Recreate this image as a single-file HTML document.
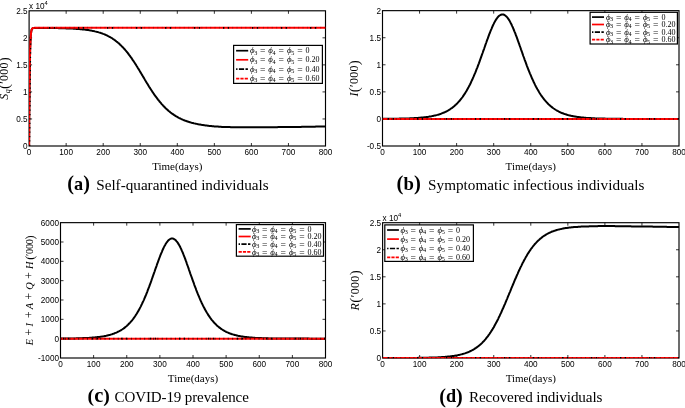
<!DOCTYPE html>
<html lang="en"><head><meta charset="utf-8"><title>Figure</title><style>
html,body{margin:0;padding:0;background:#fff}
body{width:685px;height:408px;overflow:hidden}
svg{display:block}
.tk{font-family:"Liberation Sans",sans-serif;font-size:8.2px;fill:#000}
.xl{font-family:"Liberation Serif",serif;font-size:11px;fill:#000}
.yl{font-family:"Liberation Serif",serif;fill:#000}
.lg{font-family:"Liberation Serif",serif;font-size:8px;fill:#000}
.eq{fill:#222;font-size:9.6px}
.ph{font-size:8.8px}
.ph{font-style:italic}
.sb{font-size:6.2px}
.cb{font-family:"Liberation Serif",serif;font-weight:bold;font-size:19.5px;fill:#000}
.pr{font-size:21.5px}
.cp{font-family:"Liberation Serif",serif;font-size:15.2px;fill:#000}
.cp2{font-family:"Liberation Serif",serif;font-size:15px;fill:#000}
</style></head><body>
<svg width="685" height="408" viewBox="0 0 685 408">
<rect width="685" height="408" fill="#fff"/>
<rect x="29.10" y="10.80" width="296.40" height="135.20" fill="none" stroke="#000" stroke-width="1.15"/>
<text x="29.10" y="155.00" text-anchor="middle" class="tk">0</text>
<path d="M66.15 146.00v-3.0M66.15 10.80v3.0" stroke="#000" stroke-width="0.8"/>
<text x="66.15" y="155.00" text-anchor="middle" class="tk">100</text>
<path d="M103.20 146.00v-3.0M103.20 10.80v3.0" stroke="#000" stroke-width="0.8"/>
<text x="103.20" y="155.00" text-anchor="middle" class="tk">200</text>
<path d="M140.25 146.00v-3.0M140.25 10.80v3.0" stroke="#000" stroke-width="0.8"/>
<text x="140.25" y="155.00" text-anchor="middle" class="tk">300</text>
<path d="M177.30 146.00v-3.0M177.30 10.80v3.0" stroke="#000" stroke-width="0.8"/>
<text x="177.30" y="155.00" text-anchor="middle" class="tk">400</text>
<path d="M214.35 146.00v-3.0M214.35 10.80v3.0" stroke="#000" stroke-width="0.8"/>
<text x="214.35" y="155.00" text-anchor="middle" class="tk">500</text>
<path d="M251.40 146.00v-3.0M251.40 10.80v3.0" stroke="#000" stroke-width="0.8"/>
<text x="251.40" y="155.00" text-anchor="middle" class="tk">600</text>
<path d="M288.45 146.00v-3.0M288.45 10.80v3.0" stroke="#000" stroke-width="0.8"/>
<text x="288.45" y="155.00" text-anchor="middle" class="tk">700</text>
<text x="325.50" y="155.00" text-anchor="middle" class="tk">800</text>
<text x="27.60" y="149.00" text-anchor="end" class="tk">0</text>
<path d="M29.10 118.96h3.0M325.50 118.96h-3.0" stroke="#000" stroke-width="0.8"/>
<text x="27.60" y="121.96" text-anchor="end" class="tk">0.5</text>
<path d="M29.10 91.92h3.0M325.50 91.92h-3.0" stroke="#000" stroke-width="0.8"/>
<text x="27.60" y="94.92" text-anchor="end" class="tk">1</text>
<path d="M29.10 64.88h3.0M325.50 64.88h-3.0" stroke="#000" stroke-width="0.8"/>
<text x="27.60" y="67.88" text-anchor="end" class="tk">1.5</text>
<path d="M29.10 37.84h3.0M325.50 37.84h-3.0" stroke="#000" stroke-width="0.8"/>
<text x="27.60" y="40.84" text-anchor="end" class="tk">2</text>
<text x="27.60" y="13.80" text-anchor="end" class="tk">2.5</text>
<clipPath id="c39"><rect x="28.95" y="10.80" width="296.90" height="135.50"/></clipPath>
<g clip-path="url(#c39)">
<polyline points="29.1,146.0 29.2,132.9 29.2,121.2 29.3,110.9 29.4,101.6 29.5,93.5 29.5,86.2 29.6,79.7 29.7,73.9 29.8,68.8 29.8,64.3 29.9,60.2 30.0,56.6 30.1,53.4 30.1,50.6 30.2,48.1 30.3,45.8 30.4,43.8 30.4,42.1 30.5,40.5 30.6,39.1 30.7,37.8 30.7,36.7 30.8,35.7 30.9,34.9 31.0,34.1 31.0,33.4 31.1,32.8 31.2,32.2 31.2,31.7 31.3,31.3 31.4,30.9 31.5,30.6 31.5,30.3 31.6,30.0 31.7,29.8 31.8,29.5 31.8,29.4 31.9,29.2 32.0,29.0 32.1,28.9 32.1,28.8 32.2,28.7 32.3,28.6 32.4,28.5 32.4,28.4 32.5,28.4 32.6,28.3 32.7,28.3 32.7,28.2 32.8,28.2 32.9,28.1 33.0,28.1 33.0,28.1 33.1,28.0 33.2,28.0 33.2,28.0 33.3,28.0 33.4,28.0 33.5,27.9 33.5,27.9 33.6,27.9 33.7,27.9 33.8,27.9 33.8,27.9 33.9,27.9 34.0,27.9 34.1,27.9 34.1,27.9 34.2,27.9 34.3,27.9 34.4,27.9 34.4,27.9 34.5,27.9 34.6,27.9 34.7,27.9 34.7,27.9 34.8,27.9 34.9,27.9 35.0,27.9 35.0,27.9 35.1,27.9 35.2,27.9 35.3,27.9 35.3,27.9 35.4,27.9 35.5,27.9 35.5,27.9 35.6,27.9 35.7,27.9 35.8,27.9 35.8,27.9 35.9,27.9 36.0,27.9 36.1,27.9 36.1,27.9 36.2,27.9 36.3,27.9 36.4,27.9 36.4,27.9 36.5,27.9 37.3,27.9 38.0,27.9 38.7,27.9 39.5,27.9 40.2,27.9 41.0,27.9 41.7,27.9 42.4,27.9 43.2,27.9 43.9,28.0 44.7,28.0 45.4,28.0 46.1,28.0 46.9,28.0 47.6,28.0 48.4,28.0 49.1,28.0 49.8,28.0 50.6,28.0 51.3,28.0 52.1,28.0 52.8,28.0 53.6,28.1 54.3,28.1 55.0,28.1 55.8,28.1 56.5,28.1 57.3,28.1 58.0,28.1 58.7,28.2 59.5,28.2 60.2,28.2 61.0,28.2 61.7,28.2 62.4,28.2 63.2,28.3 63.9,28.3 64.7,28.3 65.4,28.3 66.2,28.4 66.9,28.4 67.6,28.4 68.4,28.4 69.1,28.5 69.9,28.5 70.6,28.5 71.3,28.6 72.1,28.6 72.8,28.6 73.6,28.7 74.3,28.7 75.0,28.8 75.8,28.8 76.5,28.9 77.3,28.9 78.0,29.0 78.7,29.0 79.5,29.1 80.2,29.2 81.0,29.2 81.7,29.3 82.5,29.4 83.2,29.5 83.9,29.5 84.7,29.6 85.4,29.7 86.2,29.8 86.9,29.9 87.6,30.0 88.4,30.1 89.1,30.2 89.9,30.4 90.6,30.5 91.3,30.6 92.1,30.8 92.8,30.9 93.6,31.1 94.3,31.2 95.0,31.4 95.8,31.6 96.5,31.8 97.3,31.9 98.0,32.1 98.8,32.4 99.5,32.6 100.2,32.8 101.0,33.1 101.7,33.3 102.5,33.6 103.2,33.9 103.9,34.1 104.7,34.4 105.4,34.8 106.2,35.1 106.9,35.4 107.6,35.8 108.4,36.2 109.1,36.6 109.9,37.0 110.6,37.4 111.4,37.8 112.1,38.3 112.8,38.8 113.6,39.3 114.3,39.8 115.1,40.3 115.8,40.9 116.5,41.5 117.3,42.1 118.0,42.7 118.8,43.3 119.5,44.0 120.2,44.7 121.0,45.4 121.7,46.2 122.5,46.9 123.2,47.7 123.9,48.5 124.7,49.3 125.4,50.2 126.2,51.1 126.9,52.0 127.7,52.9 128.4,53.9 129.1,54.9 129.9,55.9 130.6,56.9 131.4,57.9 132.1,59.0 132.8,60.1 133.6,61.2 134.3,62.3 135.1,63.5 135.8,64.6 136.5,65.8 137.3,67.0 138.0,68.2 138.8,69.4 139.5,70.6 140.2,71.9 141.0,73.1 141.7,74.4 142.5,75.6 143.2,76.9 144.0,78.1 144.7,79.4 145.4,80.6 146.2,81.9 146.9,83.1 147.7,84.3 148.4,85.5 149.1,86.7 149.9,87.9 150.6,89.0 151.4,90.2 152.1,91.3 152.8,92.4 153.6,93.5 154.3,94.6 155.1,95.6 155.8,96.7 156.6,97.7 157.3,98.6 158.0,99.6 158.8,100.5 159.5,101.5 160.3,102.4 161.0,103.2 161.7,104.1 162.5,104.9 163.2,105.7 164.0,106.5 164.7,107.2 165.4,108.0 166.2,108.7 166.9,109.4 167.7,110.0 168.4,110.7 169.1,111.3 169.9,111.9 170.6,112.5 171.4,113.1 172.1,113.6 172.9,114.1 173.6,114.6 174.3,115.1 175.1,115.6 175.8,116.1 176.6,116.5 177.3,116.9 178.0,117.4 178.8,117.8 179.5,118.1 180.3,118.5 181.0,118.9 181.7,119.2 182.5,119.5 183.2,119.9 184.0,120.2 184.7,120.5 185.5,120.7 186.2,121.0 186.9,121.3 187.7,121.5 188.4,121.8 189.2,122.0 189.9,122.2 190.6,122.4 191.4,122.7 192.1,122.9 192.9,123.0 193.6,123.2 194.3,123.4 195.1,123.6 195.8,123.7 196.6,123.9 197.3,124.1 198.0,124.2 198.8,124.4 199.5,124.5 200.3,124.6 201.0,124.7 201.8,124.9 202.5,125.0 203.2,125.1 204.0,125.2 204.7,125.3 205.5,125.4 206.2,125.5 206.9,125.6 207.7,125.7 208.4,125.8 209.2,125.9 209.9,125.9 210.6,126.0 211.4,126.1 212.1,126.2 212.9,126.2 213.6,126.3 214.3,126.4 215.1,126.4 215.8,126.5 216.6,126.5 217.3,126.6 218.1,126.6 218.8,126.7 219.5,126.7 220.3,126.8 221.0,126.8 221.8,126.9 222.5,126.9 223.2,126.9 224.0,127.0 224.7,127.0 225.5,127.0 226.2,127.0 226.9,127.1 227.7,127.1 228.4,127.1 229.2,127.1 229.9,127.1 230.7,127.2 231.4,127.2 232.1,127.2 232.9,127.2 233.6,127.2 234.4,127.2 235.1,127.2 235.8,127.3 236.6,127.3 237.3,127.3 238.1,127.3 238.8,127.3 239.5,127.3 240.3,127.3 241.0,127.3 241.8,127.3 242.5,127.3 243.2,127.3 244.0,127.3 244.7,127.3 245.5,127.3 246.2,127.3 247.0,127.3 247.7,127.3 248.4,127.3 249.2,127.3 249.9,127.3 250.7,127.3 251.4,127.3 252.1,127.3 252.9,127.3 253.6,127.3 254.4,127.3 255.1,127.3 255.8,127.3 256.6,127.3 257.3,127.3 258.1,127.3 258.8,127.3 259.6,127.3 260.3,127.3 261.0,127.3 261.8,127.3 262.5,127.3 263.3,127.3 264.0,127.3 264.7,127.3 265.5,127.3 266.2,127.3 267.0,127.3 267.7,127.2 268.4,127.2 269.2,127.2 269.9,127.2 270.7,127.2 271.4,127.2 272.1,127.2 272.9,127.2 273.6,127.2 274.4,127.2 275.1,127.2 275.9,127.2 276.6,127.2 277.3,127.2 278.1,127.1 278.8,127.1 279.6,127.1 280.3,127.1 281.0,127.1 281.8,127.1 282.5,127.1 283.3,127.1 284.0,127.1 284.7,127.1 285.5,127.1 286.2,127.1 287.0,127.0 287.7,127.0 288.5,127.0 289.2,127.0 289.9,127.0 290.7,127.0 291.4,127.0 292.2,127.0 292.9,127.0 293.6,127.0 294.4,126.9 295.1,126.9 295.9,126.9 296.6,126.9 297.3,126.9 298.1,126.9 298.8,126.9 299.6,126.9 300.3,126.9 301.0,126.9 301.8,126.8 302.5,126.8 303.3,126.8 304.0,126.8 304.8,126.8 305.5,126.8 306.2,126.8 307.0,126.8 307.7,126.8 308.5,126.8 309.2,126.7 309.9,126.7 310.7,126.7 311.4,126.7 312.2,126.7 312.9,126.7 313.6,126.7 314.4,126.7 315.1,126.7 315.9,126.6 316.6,126.6 317.3,126.6 318.1,126.6 318.8,126.6 319.6,126.6 320.3,126.6 321.1,126.6 321.8,126.6 322.5,126.5 323.3,126.5 324.0,126.5 324.8,126.5 325.5,126.5" fill="none" stroke="#000" stroke-width="2" stroke-linejoin="round"/>
<polyline points="29.1,146.0 29.2,132.9 29.2,121.2 29.3,110.9 29.4,101.6 29.5,93.5 29.5,86.2 29.6,79.7 29.7,73.9 29.8,68.8 29.8,64.3 29.9,60.2 30.0,56.6 30.1,53.4 30.1,50.6 30.2,48.1 30.3,45.8 30.4,43.8 30.4,42.1 30.5,40.5 30.6,39.1 30.7,37.8 30.7,36.7 30.8,35.7 30.9,34.9 31.0,34.1 31.0,33.4 31.1,32.8 31.2,32.2 31.2,31.7 31.3,31.3 31.4,30.9 31.5,30.6 31.5,30.3 31.6,30.0 31.7,29.8 31.8,29.5 31.8,29.4 31.9,29.2 32.0,29.0 32.1,28.9 32.1,28.8 32.2,28.7 32.3,28.6 32.4,28.5 32.4,28.4 32.5,28.4 32.6,28.3 32.7,28.3 32.7,28.2 32.8,28.2 32.9,28.1 33.0,28.1 33.0,28.1 33.1,28.0 33.2,28.0 33.2,28.0 33.3,28.0 33.4,28.0 33.5,27.9 33.5,27.9 33.6,27.9 33.7,27.9 33.8,27.9 33.8,27.9 33.9,27.9 34.0,27.9 34.1,27.9 34.1,27.9 34.2,27.9 34.3,27.9 34.4,27.9 34.4,27.9 34.5,27.9 34.6,27.9 34.7,27.9 34.7,27.9 34.8,27.8 34.9,27.8 35.0,27.8 35.0,27.8 35.1,27.8 35.2,27.8 35.3,27.8 35.3,27.8 35.4,27.8 35.5,27.8 35.5,27.8 35.6,27.8 35.7,27.8 35.8,27.8 35.8,27.8 35.9,27.8 36.0,27.8 36.1,27.8 36.1,27.8 36.2,27.8 36.3,27.8 36.4,27.8 36.4,27.8 36.5,27.8 325.5,27.8" fill="none" stroke="#ff0000" stroke-width="2" stroke-linejoin="round"/>
<path d="M29.70 146.00L30.70 37.84" stroke="#000" stroke-width="1.2" stroke-dasharray="1.3 3.1" fill="none"/>
<path d="M34.10 27.84H325.50" stroke="#000" stroke-opacity="0.25" stroke-width="2" stroke-dasharray="1.1 3.3" fill="none"/>
<path d="M34.10 27.84H325.50" stroke="#000" stroke-width="1.8" stroke-dasharray="1.3 3.5 1.3 22.9" stroke-dashoffset="-14.90" fill="none"/>
</g>
<text x="29.10" y="9.20" class="tk">x 10<tspan dy="-4.6" font-size="5.8">4</tspan></text>
<text x="177.30" y="169.80" text-anchor="middle" class="xl">Time(days)</text>
<text transform="translate(8.30 78.40) rotate(-90)" x="-21.25" class="yl" font-size="12" textLength="42.50" lengthAdjust="spacing"><tspan font-style="italic">S</tspan><tspan font-style="italic" font-size="8" dy="2">q</tspan><tspan font-size="15" dy="-1">(</tspan><tspan dy="-1">′000</tspan><tspan font-size="15" dy="1">)</tspan></text>
<rect x="233.60" y="45.40" width="88.80" height="38.00" fill="#fff" stroke="#000" stroke-width="1.2"/>
<path d="M236.10 50.70H248.20" stroke="#000" stroke-width="1.7" fill="none"/>
<text x="250.00" y="53.30" class="lg ph">ϕ</text>
<text x="254.20" y="54.50" class="lg sb">3</text>
<text x="260.00" y="54.30" class="lg eq">=</text>
<text x="268.30" y="53.30" class="lg ph">ϕ</text>
<text x="272.50" y="54.50" class="lg sb">4</text>
<text x="278.60" y="54.30" class="lg eq">=</text>
<text x="287.00" y="53.30" class="lg ph">ϕ</text>
<text x="291.20" y="54.50" class="lg sb">5</text>
<text x="297.20" y="54.30" class="lg eq">=</text>
<text x="305.60" y="53.30" class="lg nm">0</text>
<path d="M236.10 59.80H248.20" stroke="#f00" stroke-width="1.7" fill="none"/>
<text x="250.00" y="62.40" class="lg ph">ϕ</text>
<text x="254.20" y="63.60" class="lg sb">3</text>
<text x="260.00" y="63.40" class="lg eq">=</text>
<text x="268.30" y="62.40" class="lg ph">ϕ</text>
<text x="272.50" y="63.60" class="lg sb">4</text>
<text x="278.60" y="63.40" class="lg eq">=</text>
<text x="287.00" y="62.40" class="lg ph">ϕ</text>
<text x="291.20" y="63.60" class="lg sb">5</text>
<text x="297.20" y="63.40" class="lg eq">=</text>
<text x="305.60" y="62.40" class="lg nm">0.20</text>
<path d="M236.10 69.20H248.20" stroke="#000" stroke-dasharray="1.4 1.4 5.2 1.4 2.4 10" stroke-width="1.7" fill="none"/>
<text x="250.00" y="71.80" class="lg ph">ϕ</text>
<text x="254.20" y="73.00" class="lg sb">3</text>
<text x="260.00" y="72.80" class="lg eq">=</text>
<text x="268.30" y="71.80" class="lg ph">ϕ</text>
<text x="272.50" y="73.00" class="lg sb">4</text>
<text x="278.60" y="72.80" class="lg eq">=</text>
<text x="287.00" y="71.80" class="lg ph">ϕ</text>
<text x="291.20" y="73.00" class="lg sb">5</text>
<text x="297.20" y="72.80" class="lg eq">=</text>
<text x="305.60" y="71.80" class="lg nm">0.40</text>
<path d="M236.10 78.60H248.20" stroke="#f00" stroke-dasharray="3.2 1.1" stroke-width="1.7" fill="none"/>
<text x="250.00" y="81.20" class="lg ph">ϕ</text>
<text x="254.20" y="82.40" class="lg sb">3</text>
<text x="260.00" y="82.20" class="lg eq">=</text>
<text x="268.30" y="81.20" class="lg ph">ϕ</text>
<text x="272.50" y="82.40" class="lg sb">4</text>
<text x="278.60" y="82.20" class="lg eq">=</text>
<text x="287.00" y="81.20" class="lg ph">ϕ</text>
<text x="291.20" y="82.40" class="lg sb">5</text>
<text x="297.20" y="82.20" class="lg eq">=</text>
<text x="305.60" y="81.20" class="lg nm">0.60</text>
<rect x="382.50" y="10.65" width="296.50" height="135.35" fill="none" stroke="#000" stroke-width="1.15"/>
<text x="382.50" y="155.00" text-anchor="middle" class="tk">0</text>
<path d="M419.56 146.00v-3.0M419.56 10.65v3.0" stroke="#000" stroke-width="0.8"/>
<text x="419.56" y="155.00" text-anchor="middle" class="tk">100</text>
<path d="M456.62 146.00v-3.0M456.62 10.65v3.0" stroke="#000" stroke-width="0.8"/>
<text x="456.62" y="155.00" text-anchor="middle" class="tk">200</text>
<path d="M493.69 146.00v-3.0M493.69 10.65v3.0" stroke="#000" stroke-width="0.8"/>
<text x="493.69" y="155.00" text-anchor="middle" class="tk">300</text>
<path d="M530.75 146.00v-3.0M530.75 10.65v3.0" stroke="#000" stroke-width="0.8"/>
<text x="530.75" y="155.00" text-anchor="middle" class="tk">400</text>
<path d="M567.81 146.00v-3.0M567.81 10.65v3.0" stroke="#000" stroke-width="0.8"/>
<text x="567.81" y="155.00" text-anchor="middle" class="tk">500</text>
<path d="M604.88 146.00v-3.0M604.88 10.65v3.0" stroke="#000" stroke-width="0.8"/>
<text x="604.88" y="155.00" text-anchor="middle" class="tk">600</text>
<path d="M641.94 146.00v-3.0M641.94 10.65v3.0" stroke="#000" stroke-width="0.8"/>
<text x="641.94" y="155.00" text-anchor="middle" class="tk">700</text>
<text x="679.00" y="155.00" text-anchor="middle" class="tk">800</text>
<text x="381.00" y="149.00" text-anchor="end" class="tk">-0.5</text>
<path d="M382.50 118.93h3.0M679.00 118.93h-3.0" stroke="#000" stroke-width="0.8"/>
<text x="381.00" y="121.93" text-anchor="end" class="tk">0</text>
<path d="M382.50 91.86h3.0M679.00 91.86h-3.0" stroke="#000" stroke-width="0.8"/>
<text x="381.00" y="94.86" text-anchor="end" class="tk">0.5</text>
<path d="M382.50 64.79h3.0M679.00 64.79h-3.0" stroke="#000" stroke-width="0.8"/>
<text x="381.00" y="67.79" text-anchor="end" class="tk">1</text>
<path d="M382.50 37.72h3.0M679.00 37.72h-3.0" stroke="#000" stroke-width="0.8"/>
<text x="381.00" y="40.72" text-anchor="end" class="tk">1.5</text>
<text x="381.00" y="13.65" text-anchor="end" class="tk">2</text>
<clipPath id="c393"><rect x="382.35" y="10.65" width="297.00" height="135.65"/></clipPath>
<g clip-path="url(#c393)">
<polyline points="382.5,118.8 382.6,118.8 382.6,118.8 382.7,118.8 382.8,118.8 382.9,118.8 382.9,118.8 383.0,118.8 383.1,118.8 383.2,118.8 383.2,118.8 383.3,118.8 383.4,118.8 383.5,118.8 383.5,118.8 383.6,118.8 383.7,118.8 383.8,118.8 383.8,118.8 383.9,118.8 384.0,118.8 384.1,118.8 384.1,118.8 384.2,118.8 384.3,118.8 384.4,118.8 384.4,118.8 384.5,118.8 384.6,118.8 384.6,118.8 384.7,118.8 384.8,118.8 384.9,118.8 384.9,118.8 385.0,118.8 385.1,118.8 385.2,118.8 385.2,118.8 385.3,118.8 385.4,118.8 385.5,118.8 385.5,118.8 385.6,118.8 385.7,118.8 385.8,118.8 385.8,118.8 385.9,118.8 386.0,118.8 386.1,118.8 386.1,118.8 386.2,118.8 386.3,118.8 386.4,118.8 386.4,118.8 386.5,118.8 386.6,118.8 386.7,118.8 386.7,118.8 386.8,118.8 386.9,118.8 386.9,118.8 387.0,118.8 387.1,118.8 387.2,118.8 387.2,118.8 387.3,118.8 387.4,118.8 387.5,118.8 387.5,118.8 387.6,118.8 387.7,118.8 387.8,118.8 387.8,118.8 387.9,118.8 388.0,118.8 388.1,118.8 388.1,118.8 388.2,118.8 388.3,118.8 388.4,118.8 388.4,118.8 388.5,118.8 388.6,118.8 388.7,118.8 388.7,118.8 388.8,118.8 388.9,118.8 388.9,118.8 389.0,118.8 389.1,118.8 389.2,118.8 389.2,118.8 389.3,118.8 389.4,118.8 389.5,118.8 389.5,118.8 389.6,118.8 389.7,118.8 389.8,118.8 389.8,118.8 389.9,118.8 390.7,118.8 391.4,118.8 392.1,118.8 392.9,118.8 393.6,118.7 394.4,118.7 395.1,118.7 395.8,118.7 396.6,118.7 397.3,118.7 398.1,118.7 398.8,118.7 399.5,118.6 400.3,118.6 401.0,118.6 401.8,118.6 402.5,118.6 403.3,118.6 404.0,118.5 404.7,118.5 405.5,118.5 406.2,118.5 407.0,118.5 407.7,118.4 408.4,118.4 409.2,118.4 409.9,118.3 410.7,118.3 411.4,118.3 412.1,118.2 412.9,118.2 413.6,118.2 414.4,118.1 415.1,118.1 415.9,118.0 416.6,118.0 417.3,117.9 418.1,117.9 418.8,117.8 419.6,117.8 420.3,117.7 421.0,117.6 421.8,117.6 422.5,117.5 423.3,117.4 424.0,117.3 424.8,117.3 425.5,117.2 426.2,117.1 427.0,117.0 427.7,116.9 428.5,116.8 429.2,116.6 429.9,116.5 430.7,116.4 431.4,116.3 432.2,116.1 432.9,116.0 433.6,115.8 434.4,115.6 435.1,115.5 435.9,115.3 436.6,115.1 437.4,114.9 438.1,114.7 438.8,114.5 439.6,114.2 440.3,114.0 441.1,113.7 441.8,113.4 442.5,113.1 443.3,112.8 444.0,112.5 444.8,112.2 445.5,111.8 446.2,111.5 447.0,111.1 447.7,110.7 448.5,110.3 449.2,109.8 450.0,109.3 450.7,108.8 451.4,108.3 452.2,107.8 452.9,107.2 453.7,106.6 454.4,106.0 455.1,105.3 455.9,104.7 456.6,103.9 457.4,103.2 458.1,102.4 458.8,101.6 459.6,100.8 460.3,99.9 461.1,98.9 461.8,98.0 462.6,97.0 463.3,95.9 464.0,94.8 464.8,93.7 465.5,92.5 466.3,91.3 467.0,90.0 467.7,88.7 468.5,87.3 469.2,85.9 470.0,84.5 470.7,83.0 471.4,81.4 472.2,79.8 472.9,78.1 473.7,76.4 474.4,74.7 475.2,72.9 475.9,71.1 476.6,69.2 477.4,67.3 478.1,65.3 478.9,63.3 479.6,61.3 480.3,59.3 481.1,57.2 481.8,55.1 482.6,53.0 483.3,50.9 484.1,48.8 484.8,46.7 485.5,44.6 486.3,42.5 487.0,40.4 487.8,38.4 488.5,36.4 489.2,34.4 490.0,32.5 490.7,30.6 491.5,28.8 492.2,27.1 492.9,25.5 493.7,23.9 494.4,22.4 495.2,21.1 495.9,19.8 496.7,18.7 497.4,17.7 498.1,16.8 498.9,16.1 499.6,15.5 500.4,15.0 501.1,14.7 501.8,14.5 502.6,14.4 503.3,14.5 504.1,14.8 504.8,15.2 505.5,15.7 506.3,16.4 507.0,17.2 507.8,18.1 508.5,19.2 509.3,20.3 510.0,21.6 510.7,23.0 511.5,24.5 512.2,26.1 513.0,27.8 513.7,29.5 514.4,31.3 515.2,33.2 515.9,35.2 516.7,37.2 517.4,39.2 518.1,41.2 518.9,43.3 519.6,45.4 520.4,47.5 521.1,49.6 521.9,51.8 522.6,53.9 523.3,56.0 524.1,58.0 524.8,60.1 525.6,62.1 526.3,64.1 527.0,66.1 527.8,68.1 528.5,70.0 529.3,71.8 530.0,73.6 530.8,75.4 531.5,77.1 532.2,78.8 533.0,80.4 533.7,82.0 534.5,83.6 535.2,85.1 535.9,86.5 536.7,87.9 537.4,89.2 538.2,90.5 538.9,91.8 539.6,93.0 540.4,94.2 541.1,95.3 541.9,96.3 542.6,97.4 543.4,98.4 544.1,99.3 544.8,100.2 545.6,101.1 546.3,101.9 547.1,102.7 547.8,103.5 548.5,104.2 549.3,104.9 550.0,105.6 550.8,106.2 551.5,106.9 552.2,107.4 553.0,108.0 553.7,108.5 554.5,109.0 555.2,109.5 556.0,110.0 556.7,110.4 557.4,110.8 558.2,111.2 558.9,111.6 559.7,112.0 560.4,112.3 561.1,112.7 561.9,113.0 562.6,113.3 563.4,113.5 564.1,113.8 564.8,114.1 565.6,114.3 566.3,114.5 567.1,114.8 567.8,115.0 568.6,115.2 569.3,115.4 570.0,115.5 570.8,115.7 571.5,115.9 572.3,116.0 573.0,116.2 573.7,116.3 574.5,116.5 575.2,116.6 576.0,116.7 576.7,116.8 577.4,116.9 578.2,117.0 578.9,117.1 579.7,117.2 580.4,117.3 581.2,117.4 581.9,117.5 582.6,117.5 583.4,117.6 584.1,117.7 584.9,117.7 585.6,117.8 586.3,117.9 587.1,117.9 587.8,118.0 588.6,118.0 589.3,118.1 590.0,118.1 590.8,118.1 591.5,118.2 592.3,118.2 593.0,118.3 593.8,118.3 594.5,118.3 595.2,118.4 596.0,118.4 596.7,118.4 597.5,118.4 598.2,118.5 598.9,118.5 599.7,118.5 600.4,118.5 601.2,118.6 601.9,118.6 602.7,118.6 603.4,118.6 604.1,118.6 604.9,118.6 605.6,118.7 606.4,118.7 607.1,118.7 607.8,118.7 608.6,118.7 609.3,118.7 610.1,118.7 610.8,118.7 611.5,118.7 612.3,118.8 613.0,118.8 613.8,118.8 614.5,118.8 615.3,118.8 616.0,118.8 616.7,118.8 617.5,118.8 618.2,118.8 619.0,118.8 619.7,118.8 620.4,118.8 621.2,118.8 621.9,118.8 622.7,118.8 623.4,118.9 624.1,118.9 624.9,118.9 625.6,118.9 626.4,118.9 627.1,118.9 627.9,118.9 628.6,118.9 629.3,118.9 630.1,118.9 630.8,118.9 631.6,118.9 632.3,118.9 633.0,118.9 633.8,118.9 634.5,118.9 635.3,118.9 636.0,118.9 636.7,118.9 637.5,118.9 638.2,118.9 639.0,118.9 639.7,118.9 640.5,118.9 641.2,118.9 641.9,118.9 642.7,118.9 643.4,118.9 644.2,118.9 644.9,118.9 645.6,118.9 646.4,118.9 647.1,118.9 647.9,118.9 648.6,118.9 649.3,118.9 650.1,118.9 650.8,118.9 651.6,118.9 652.3,118.9 653.1,118.9 653.8,118.9 654.5,118.9 655.3,118.9 656.0,118.9 656.8,118.9 657.5,118.9 658.2,118.9 659.0,118.9 659.7,118.9 660.5,118.9 661.2,118.9 662.0,118.9 662.7,118.9 663.4,118.9 664.2,118.9 664.9,118.9 665.7,118.9 666.4,118.9 667.1,118.9 667.9,118.9 668.6,118.9 669.4,118.9 670.1,118.9 670.8,118.9 671.6,118.9 672.3,118.9 673.1,118.9 673.8,118.9 674.6,118.9 675.3,118.9 676.0,118.9 676.8,118.9 677.5,118.9 678.3,118.9 679.0,118.9" fill="none" stroke="#000" stroke-width="2" stroke-linejoin="round"/>
<polyline points="382.5,118.9 679.0,118.9" fill="none" stroke="#ff0000" stroke-width="2" stroke-linejoin="round"/>
<path d="M382.50 118.93H679.00" stroke="#000" stroke-opacity="0.4" stroke-width="2" stroke-dasharray="1.1 3.3" fill="none"/>
<path d="M382.50 118.93H679.00" stroke="#000" stroke-width="1.8" stroke-dasharray="1.3 3.5 1.3 22.9" stroke-dashoffset="-5.40" fill="none"/>
</g>
<text x="530.75" y="169.80" text-anchor="middle" class="xl">Time(days)</text>
<text transform="translate(358.20 78.33) rotate(-90)" x="-18.15" class="yl" font-size="12" textLength="36.30" lengthAdjust="spacing"><tspan font-style="italic">I</tspan><tspan font-size="15" dy="1">(</tspan><tspan dy="-1">′000</tspan><tspan font-size="15" dy="1">)</tspan></text>
<rect x="590.10" y="12.30" width="87.30" height="31.70" fill="#fff" stroke="#000" stroke-width="1.2"/>
<path d="M592.00 17.10H604.00" stroke="#000" stroke-width="1.7" fill="none"/>
<text x="605.90" y="19.70" class="lg ph">ϕ</text>
<text x="610.10" y="20.90" class="lg sb">3</text>
<text x="615.90" y="20.70" class="lg eq">=</text>
<text x="624.20" y="19.70" class="lg ph">ϕ</text>
<text x="628.40" y="20.90" class="lg sb">4</text>
<text x="634.50" y="20.70" class="lg eq">=</text>
<text x="642.90" y="19.70" class="lg ph">ϕ</text>
<text x="647.10" y="20.90" class="lg sb">5</text>
<text x="653.10" y="20.70" class="lg eq">=</text>
<text x="661.50" y="19.70" class="lg nm">0</text>
<path d="M592.00 24.50H604.00" stroke="#f00" stroke-width="1.7" fill="none"/>
<text x="605.90" y="27.10" class="lg ph">ϕ</text>
<text x="610.10" y="28.30" class="lg sb">3</text>
<text x="615.90" y="28.10" class="lg eq">=</text>
<text x="624.20" y="27.10" class="lg ph">ϕ</text>
<text x="628.40" y="28.30" class="lg sb">4</text>
<text x="634.50" y="28.10" class="lg eq">=</text>
<text x="642.90" y="27.10" class="lg ph">ϕ</text>
<text x="647.10" y="28.30" class="lg sb">5</text>
<text x="653.10" y="28.10" class="lg eq">=</text>
<text x="661.50" y="27.10" class="lg nm">0.20</text>
<path d="M592.00 32.20H604.00" stroke="#000" stroke-dasharray="1.4 1.4 5.2 1.4 2.4 10" stroke-width="1.7" fill="none"/>
<text x="605.90" y="34.80" class="lg ph">ϕ</text>
<text x="610.10" y="36.00" class="lg sb">3</text>
<text x="615.90" y="35.80" class="lg eq">=</text>
<text x="624.20" y="34.80" class="lg ph">ϕ</text>
<text x="628.40" y="36.00" class="lg sb">4</text>
<text x="634.50" y="35.80" class="lg eq">=</text>
<text x="642.90" y="34.80" class="lg ph">ϕ</text>
<text x="647.10" y="36.00" class="lg sb">5</text>
<text x="653.10" y="35.80" class="lg eq">=</text>
<text x="661.50" y="34.80" class="lg nm">0.40</text>
<path d="M592.00 39.70H604.00" stroke="#f00" stroke-dasharray="3.2 1.1" stroke-width="1.7" fill="none"/>
<text x="605.90" y="42.30" class="lg ph">ϕ</text>
<text x="610.10" y="43.50" class="lg sb">3</text>
<text x="615.90" y="43.30" class="lg eq">=</text>
<text x="624.20" y="42.30" class="lg ph">ϕ</text>
<text x="628.40" y="43.50" class="lg sb">4</text>
<text x="634.50" y="43.30" class="lg eq">=</text>
<text x="642.90" y="42.30" class="lg ph">ϕ</text>
<text x="647.10" y="43.50" class="lg sb">5</text>
<text x="653.10" y="43.30" class="lg eq">=</text>
<text x="661.50" y="42.30" class="lg nm">0.60</text>
<rect x="60.50" y="222.65" width="265.00" height="135.35" fill="none" stroke="#000" stroke-width="1.15"/>
<text x="60.50" y="367.00" text-anchor="middle" class="tk">0</text>
<path d="M93.62 358.00v-3.0M93.62 222.65v3.0" stroke="#000" stroke-width="0.8"/>
<text x="93.62" y="367.00" text-anchor="middle" class="tk">100</text>
<path d="M126.75 358.00v-3.0M126.75 222.65v3.0" stroke="#000" stroke-width="0.8"/>
<text x="126.75" y="367.00" text-anchor="middle" class="tk">200</text>
<path d="M159.88 358.00v-3.0M159.88 222.65v3.0" stroke="#000" stroke-width="0.8"/>
<text x="159.88" y="367.00" text-anchor="middle" class="tk">300</text>
<path d="M193.00 358.00v-3.0M193.00 222.65v3.0" stroke="#000" stroke-width="0.8"/>
<text x="193.00" y="367.00" text-anchor="middle" class="tk">400</text>
<path d="M226.12 358.00v-3.0M226.12 222.65v3.0" stroke="#000" stroke-width="0.8"/>
<text x="226.12" y="367.00" text-anchor="middle" class="tk">500</text>
<path d="M259.25 358.00v-3.0M259.25 222.65v3.0" stroke="#000" stroke-width="0.8"/>
<text x="259.25" y="367.00" text-anchor="middle" class="tk">600</text>
<path d="M292.38 358.00v-3.0M292.38 222.65v3.0" stroke="#000" stroke-width="0.8"/>
<text x="292.38" y="367.00" text-anchor="middle" class="tk">700</text>
<text x="325.50" y="367.00" text-anchor="middle" class="tk">800</text>
<text x="59.00" y="361.00" text-anchor="end" class="tk">-1000</text>
<path d="M60.50 338.66h3.0M325.50 338.66h-3.0" stroke="#000" stroke-width="0.8"/>
<text x="59.00" y="341.66" text-anchor="end" class="tk">0</text>
<path d="M60.50 319.33h3.0M325.50 319.33h-3.0" stroke="#000" stroke-width="0.8"/>
<text x="59.00" y="322.33" text-anchor="end" class="tk">1000</text>
<path d="M60.50 299.99h3.0M325.50 299.99h-3.0" stroke="#000" stroke-width="0.8"/>
<text x="59.00" y="302.99" text-anchor="end" class="tk">2000</text>
<path d="M60.50 280.66h3.0M325.50 280.66h-3.0" stroke="#000" stroke-width="0.8"/>
<text x="59.00" y="283.66" text-anchor="end" class="tk">3000</text>
<path d="M60.50 261.32h3.0M325.50 261.32h-3.0" stroke="#000" stroke-width="0.8"/>
<text x="59.00" y="264.32" text-anchor="end" class="tk">4000</text>
<path d="M60.50 241.99h3.0M325.50 241.99h-3.0" stroke="#000" stroke-width="0.8"/>
<text x="59.00" y="244.99" text-anchor="end" class="tk">5000</text>
<text x="59.00" y="225.65" text-anchor="end" class="tk">6000</text>
<clipPath id="c283"><rect x="60.35" y="222.65" width="265.50" height="135.65"/></clipPath>
<g clip-path="url(#c283)">
<polyline points="60.5,338.6 60.6,338.6 60.6,338.6 60.7,338.6 60.8,338.6 60.8,338.6 60.9,338.6 61.0,338.6 61.0,338.6 61.1,338.6 61.2,338.6 61.2,338.6 61.3,338.6 61.4,338.6 61.4,338.6 61.5,338.6 61.6,338.6 61.6,338.6 61.7,338.6 61.8,338.6 61.8,338.6 61.9,338.6 62.0,338.6 62.0,338.6 62.1,338.6 62.2,338.6 62.2,338.6 62.3,338.6 62.4,338.6 62.4,338.6 62.5,338.6 62.6,338.6 62.6,338.5 62.7,338.5 62.8,338.5 62.8,338.5 62.9,338.5 63.0,338.5 63.0,338.5 63.1,338.5 63.1,338.5 63.2,338.5 63.3,338.5 63.3,338.5 63.4,338.5 63.5,338.5 63.5,338.5 63.6,338.5 63.7,338.5 63.7,338.5 63.8,338.5 63.9,338.5 63.9,338.5 64.0,338.5 64.1,338.5 64.1,338.5 64.2,338.5 64.3,338.5 64.3,338.5 64.4,338.5 64.5,338.5 64.5,338.5 64.6,338.5 64.7,338.5 64.7,338.5 64.8,338.5 64.9,338.5 64.9,338.5 65.0,338.5 65.1,338.5 65.1,338.5 65.2,338.5 65.3,338.5 65.3,338.5 65.4,338.5 65.5,338.5 65.5,338.5 65.6,338.5 65.7,338.5 65.7,338.5 65.8,338.5 65.9,338.5 65.9,338.5 66.0,338.5 66.1,338.5 66.1,338.5 66.2,338.5 66.3,338.5 66.3,338.5 66.4,338.5 66.5,338.5 66.5,338.5 66.6,338.5 66.7,338.5 66.7,338.5 66.8,338.5 66.9,338.5 66.9,338.5 67.0,338.5 67.1,338.5 67.1,338.5 67.8,338.5 68.5,338.5 69.1,338.5 69.8,338.5 70.4,338.5 71.1,338.4 71.8,338.4 72.4,338.4 73.1,338.4 73.8,338.4 74.4,338.4 75.1,338.4 75.7,338.4 76.4,338.3 77.1,338.3 77.7,338.3 78.4,338.3 79.0,338.3 79.7,338.3 80.4,338.2 81.0,338.2 81.7,338.2 82.4,338.2 83.0,338.1 83.7,338.1 84.3,338.1 85.0,338.1 85.7,338.0 86.3,338.0 87.0,338.0 87.7,337.9 88.3,337.9 89.0,337.9 89.7,337.8 90.3,337.8 91.0,337.7 91.6,337.7 92.3,337.6 93.0,337.6 93.6,337.5 94.3,337.5 94.9,337.4 95.6,337.3 96.3,337.3 96.9,337.2 97.6,337.1 98.3,337.0 98.9,337.0 99.6,336.9 100.2,336.8 100.9,336.7 101.6,336.6 102.2,336.5 102.9,336.4 103.6,336.3 104.2,336.2 104.9,336.0 105.5,335.9 106.2,335.8 106.9,335.6 107.5,335.5 108.2,335.3 108.9,335.1 109.5,335.0 110.2,334.8 110.8,334.6 111.5,334.4 112.2,334.2 112.8,333.9 113.5,333.7 114.2,333.5 114.8,333.2 115.5,332.9 116.2,332.7 116.8,332.4 117.5,332.1 118.1,331.7 118.8,331.4 119.5,331.0 120.1,330.7 120.8,330.3 121.4,329.9 122.1,329.5 122.8,329.0 123.4,328.6 124.1,328.1 124.8,327.6 125.4,327.0 126.1,326.5 126.8,325.9 127.4,325.3 128.1,324.7 128.7,324.0 129.4,323.3 130.1,322.6 130.7,321.9 131.4,321.1 132.1,320.3 132.7,319.5 133.4,318.6 134.0,317.7 134.7,316.8 135.4,315.8 136.0,314.8 136.7,313.7 137.3,312.7 138.0,311.5 138.7,310.4 139.3,309.2 140.0,307.9 140.7,306.6 141.3,305.3 142.0,303.9 142.6,302.5 143.3,301.1 144.0,299.6 144.6,298.1 145.3,296.5 146.0,294.9 146.6,293.3 147.3,291.6 147.9,289.9 148.6,288.1 149.3,286.4 149.9,284.6 150.6,282.8 151.3,280.9 151.9,279.0 152.6,277.2 153.2,275.3 153.9,273.4 154.6,271.5 155.2,269.6 155.9,267.7 156.6,265.8 157.2,263.9 157.9,262.1 158.6,260.2 159.2,258.5 159.9,256.7 160.5,255.0 161.2,253.4 161.9,251.8 162.5,250.2 163.2,248.8 163.8,247.4 164.5,246.1 165.2,244.9 165.8,243.7 166.5,242.7 167.2,241.8 167.8,241.0 168.5,240.3 169.1,239.7 169.8,239.2 170.5,238.9 171.1,238.6 171.8,238.5 172.5,238.5 173.1,238.6 173.8,238.9 174.4,239.3 175.1,239.7 175.8,240.3 176.4,241.1 177.1,241.9 177.8,242.8 178.4,243.9 179.1,245.0 179.8,246.2 180.4,247.5 181.1,248.9 181.7,250.4 182.4,251.9 183.1,253.5 183.7,255.2 184.4,256.9 185.1,258.6 185.7,260.4 186.4,262.2 187.0,264.1 187.7,266.0 188.4,267.9 189.0,269.8 189.7,271.7 190.3,273.6 191.0,275.5 191.7,277.3 192.3,279.2 193.0,281.1 193.7,282.9 194.3,284.8 195.0,286.6 195.7,288.3 196.3,290.1 197.0,291.8 197.6,293.4 198.3,295.1 199.0,296.7 199.6,298.2 200.3,299.8 200.9,301.2 201.6,302.7 202.3,304.1 202.9,305.4 203.6,306.8 204.3,308.0 204.9,309.3 205.6,310.5 206.2,311.6 206.9,312.8 207.6,313.8 208.2,314.9 208.9,315.9 209.6,316.9 210.2,317.8 210.9,318.7 211.5,319.6 212.2,320.4 212.9,321.2 213.5,322.0 214.2,322.7 214.9,323.4 215.5,324.1 216.2,324.7 216.8,325.4 217.5,326.0 218.2,326.5 218.8,327.1 219.5,327.6 220.2,328.1 220.8,328.6 221.5,329.1 222.2,329.5 222.8,329.9 223.5,330.3 224.1,330.7 224.8,331.1 225.5,331.4 226.1,331.8 226.8,332.1 227.4,332.4 228.1,332.7 228.8,333.0 229.4,333.2 230.1,333.5 230.8,333.7 231.4,334.0 232.1,334.2 232.8,334.4 233.4,334.6 234.1,334.8 234.7,335.0 235.4,335.1 236.1,335.3 236.7,335.5 237.4,335.6 238.0,335.8 238.7,335.9 239.4,336.0 240.0,336.2 240.7,336.3 241.4,336.4 242.0,336.5 242.7,336.6 243.3,336.7 244.0,336.8 244.7,336.9 245.3,337.0 246.0,337.1 246.7,337.1 247.3,337.2 248.0,337.3 248.7,337.3 249.3,337.4 250.0,337.5 250.6,337.5 251.3,337.6 252.0,337.6 252.6,337.7 253.3,337.7 253.9,337.8 254.6,337.8 255.3,337.9 255.9,337.9 256.6,337.9 257.3,338.0 257.9,338.0 258.6,338.0 259.2,338.1 259.9,338.1 260.6,338.1 261.2,338.1 261.9,338.2 262.6,338.2 263.2,338.2 263.9,338.2 264.5,338.3 265.2,338.3 265.9,338.3 266.5,338.3 267.2,338.3 267.9,338.3 268.5,338.4 269.2,338.4 269.9,338.4 270.5,338.4 271.2,338.4 271.8,338.4 272.5,338.4 273.2,338.5 273.8,338.5 274.5,338.5 275.1,338.5 275.8,338.5 276.5,338.5 277.1,338.5 277.8,338.5 278.5,338.5 279.1,338.5 279.8,338.5 280.4,338.5 281.1,338.5 281.8,338.6 282.4,338.6 283.1,338.6 283.8,338.6 284.4,338.6 285.1,338.6 285.8,338.6 286.4,338.6 287.1,338.6 287.7,338.6 288.4,338.6 289.1,338.6 289.7,338.6 290.4,338.6 291.0,338.6 291.7,338.6 292.4,338.6 293.0,338.6 293.7,338.6 294.4,338.6 295.0,338.6 295.7,338.6 296.4,338.6 297.0,338.6 297.7,338.6 298.3,338.6 299.0,338.6 299.7,338.6 300.3,338.6 301.0,338.6 301.6,338.6 302.3,338.6 303.0,338.6 303.6,338.6 304.3,338.6 305.0,338.6 305.6,338.6 306.3,338.6 306.9,338.6 307.6,338.6 308.3,338.6 308.9,338.6 309.6,338.7 310.3,338.7 310.9,338.7 311.6,338.7 312.2,338.7 312.9,338.7 313.6,338.7 314.2,338.7 314.9,338.7 315.6,338.7 316.2,338.7 316.9,338.7 317.6,338.7 318.2,338.7 318.9,338.7 319.5,338.7 320.2,338.7 320.9,338.7 321.5,338.7 322.2,338.7 322.8,338.7 323.5,338.7 324.2,338.7 324.8,338.7 325.5,338.7" fill="none" stroke="#000" stroke-width="2" stroke-linejoin="round"/>
<polyline points="60.5,338.7 325.5,338.7" fill="none" stroke="#ff0000" stroke-width="2" stroke-linejoin="round"/>
<path d="M60.50 338.66H325.50" stroke="#000" stroke-opacity="0.6" stroke-width="2" stroke-dasharray="1.1 3.3" fill="none"/>
<path d="M60.50 338.66H325.50" stroke="#000" stroke-width="1.8" stroke-dasharray="1.3 3.5 1.3 22.9" stroke-dashoffset="-2.50" fill="none"/>
</g>
<text x="193.00" y="381.80" text-anchor="middle" class="xl">Time(days)</text>
<g transform="translate(32.80 290.32) rotate(-90)" class="yl" font-size="10.3">
<text x="-54.90" y="0" font-style="italic">E</text>
<text x="-45.20" y="0" font-size="11.5">+</text>
<text x="-36.10" y="0" font-style="italic">I</text>
<text x="-27.60" y="0" font-size="11.5">+</text>
<text x="-18.90" y="0" font-style="italic">A</text>
<text x="-9.10" y="0" font-size="11.5">+</text>
<text x="0.70" y="0" font-style="italic">Q</text>
<text x="11.70" y="0" font-size="11.5">+</text>
<text x="21.30" y="0" font-style="italic">H</text>
<text x="30.50" y="0" textLength="24.6" lengthAdjust="spacing"><tspan font-size="12.5" dy="0.8">(</tspan><tspan dy="-0.8">′000</tspan><tspan font-size="12.5" dy="0.8">)</tspan></text>
</g>
<rect x="236.40" y="224.60" width="87.10" height="31.60" fill="#fff" stroke="#000" stroke-width="1.2"/>
<path d="M238.60 228.90H250.70" stroke="#000" stroke-width="1.7" fill="none"/>
<text x="252.00" y="231.50" class="lg ph">ϕ</text>
<text x="256.20" y="232.70" class="lg sb">3</text>
<text x="262.00" y="232.50" class="lg eq">=</text>
<text x="270.30" y="231.50" class="lg ph">ϕ</text>
<text x="274.50" y="232.70" class="lg sb">4</text>
<text x="280.60" y="232.50" class="lg eq">=</text>
<text x="289.00" y="231.50" class="lg ph">ϕ</text>
<text x="293.20" y="232.70" class="lg sb">5</text>
<text x="299.20" y="232.50" class="lg eq">=</text>
<text x="307.60" y="231.50" class="lg nm">0</text>
<path d="M238.60 236.50H250.70" stroke="#f00" stroke-width="1.7" fill="none"/>
<text x="252.00" y="239.10" class="lg ph">ϕ</text>
<text x="256.20" y="240.30" class="lg sb">3</text>
<text x="262.00" y="240.10" class="lg eq">=</text>
<text x="270.30" y="239.10" class="lg ph">ϕ</text>
<text x="274.50" y="240.30" class="lg sb">4</text>
<text x="280.60" y="240.10" class="lg eq">=</text>
<text x="289.00" y="239.10" class="lg ph">ϕ</text>
<text x="293.20" y="240.30" class="lg sb">5</text>
<text x="299.20" y="240.10" class="lg eq">=</text>
<text x="307.60" y="239.10" class="lg nm">0.20</text>
<path d="M238.60 244.20H250.70" stroke="#000" stroke-dasharray="1.4 1.4 5.2 1.4 2.4 10" stroke-width="1.7" fill="none"/>
<text x="252.00" y="246.80" class="lg ph">ϕ</text>
<text x="256.20" y="248.00" class="lg sb">3</text>
<text x="262.00" y="247.80" class="lg eq">=</text>
<text x="270.30" y="246.80" class="lg ph">ϕ</text>
<text x="274.50" y="248.00" class="lg sb">4</text>
<text x="280.60" y="247.80" class="lg eq">=</text>
<text x="289.00" y="246.80" class="lg ph">ϕ</text>
<text x="293.20" y="248.00" class="lg sb">5</text>
<text x="299.20" y="247.80" class="lg eq">=</text>
<text x="307.60" y="246.80" class="lg nm">0.40</text>
<path d="M238.60 251.90H250.70" stroke="#f00" stroke-dasharray="3.2 1.1" stroke-width="1.7" fill="none"/>
<text x="252.00" y="254.50" class="lg ph">ϕ</text>
<text x="256.20" y="255.70" class="lg sb">3</text>
<text x="262.00" y="255.50" class="lg eq">=</text>
<text x="270.30" y="254.50" class="lg ph">ϕ</text>
<text x="274.50" y="255.70" class="lg sb">4</text>
<text x="280.60" y="255.50" class="lg eq">=</text>
<text x="289.00" y="254.50" class="lg ph">ϕ</text>
<text x="293.20" y="255.70" class="lg sb">5</text>
<text x="299.20" y="255.50" class="lg eq">=</text>
<text x="307.60" y="254.50" class="lg nm">0.60</text>
<rect x="382.60" y="222.70" width="296.40" height="135.30" fill="none" stroke="#000" stroke-width="1.15"/>
<text x="382.60" y="367.00" text-anchor="middle" class="tk">0</text>
<path d="M419.65 358.00v-3.0M419.65 222.70v3.0" stroke="#000" stroke-width="0.8"/>
<text x="419.65" y="367.00" text-anchor="middle" class="tk">100</text>
<path d="M456.70 358.00v-3.0M456.70 222.70v3.0" stroke="#000" stroke-width="0.8"/>
<text x="456.70" y="367.00" text-anchor="middle" class="tk">200</text>
<path d="M493.75 358.00v-3.0M493.75 222.70v3.0" stroke="#000" stroke-width="0.8"/>
<text x="493.75" y="367.00" text-anchor="middle" class="tk">300</text>
<path d="M530.80 358.00v-3.0M530.80 222.70v3.0" stroke="#000" stroke-width="0.8"/>
<text x="530.80" y="367.00" text-anchor="middle" class="tk">400</text>
<path d="M567.85 358.00v-3.0M567.85 222.70v3.0" stroke="#000" stroke-width="0.8"/>
<text x="567.85" y="367.00" text-anchor="middle" class="tk">500</text>
<path d="M604.90 358.00v-3.0M604.90 222.70v3.0" stroke="#000" stroke-width="0.8"/>
<text x="604.90" y="367.00" text-anchor="middle" class="tk">600</text>
<path d="M641.95 358.00v-3.0M641.95 222.70v3.0" stroke="#000" stroke-width="0.8"/>
<text x="641.95" y="367.00" text-anchor="middle" class="tk">700</text>
<text x="679.00" y="367.00" text-anchor="middle" class="tk">800</text>
<text x="381.10" y="361.00" text-anchor="end" class="tk">0</text>
<path d="M382.60 330.94h3.0M679.00 330.94h-3.0" stroke="#000" stroke-width="0.8"/>
<text x="381.10" y="333.94" text-anchor="end" class="tk">0.5</text>
<path d="M382.60 303.88h3.0M679.00 303.88h-3.0" stroke="#000" stroke-width="0.8"/>
<text x="381.10" y="306.88" text-anchor="end" class="tk">1</text>
<path d="M382.60 276.82h3.0M679.00 276.82h-3.0" stroke="#000" stroke-width="0.8"/>
<text x="381.10" y="279.82" text-anchor="end" class="tk">1.5</text>
<path d="M382.60 249.76h3.0M679.00 249.76h-3.0" stroke="#000" stroke-width="0.8"/>
<text x="381.10" y="252.76" text-anchor="end" class="tk">2</text>
<text x="381.10" y="225.70" text-anchor="end" class="tk">2.5</text>
<clipPath id="c605"><rect x="382.45" y="222.70" width="296.90" height="135.60"/></clipPath>
<g clip-path="url(#c605)">
<polyline points="382.6,358.0 382.7,358.0 382.7,358.0 382.8,358.0 382.9,358.0 383.0,358.0 383.0,358.0 383.1,358.0 383.2,358.0 383.3,358.0 383.3,358.0 383.4,358.0 383.5,358.0 383.6,358.0 383.6,358.0 383.7,358.0 383.8,358.0 383.9,358.0 383.9,358.0 384.0,358.0 384.1,358.0 384.2,358.0 384.2,358.0 384.3,358.0 384.4,358.0 384.5,358.0 384.5,358.0 384.6,358.0 384.7,358.0 384.7,358.0 384.8,358.0 384.9,358.0 385.0,358.0 385.0,358.0 385.1,358.0 385.2,358.0 385.3,358.0 385.3,358.0 385.4,358.0 385.5,358.0 385.6,358.0 385.6,358.0 385.7,358.0 385.8,358.0 385.9,358.0 385.9,358.0 386.0,358.0 386.1,358.0 386.2,358.0 386.2,358.0 386.3,358.0 386.4,358.0 386.5,358.0 386.5,358.0 386.6,358.0 386.7,358.0 386.7,358.0 386.8,358.0 386.9,358.0 387.0,358.0 387.0,358.0 387.1,358.0 387.2,358.0 387.3,358.0 387.3,358.0 387.4,358.0 387.5,358.0 387.6,358.0 387.6,358.0 387.7,358.0 387.8,358.0 387.9,358.0 387.9,358.0 388.0,358.0 388.1,358.0 388.2,358.0 388.2,358.0 388.3,358.0 388.4,358.0 388.5,358.0 388.5,358.0 388.6,358.0 388.7,358.0 388.8,358.0 388.8,358.0 388.9,358.0 389.0,358.0 389.0,358.0 389.1,358.0 389.2,358.0 389.3,358.0 389.3,358.0 389.4,358.0 389.5,358.0 389.6,358.0 389.6,358.0 389.7,358.0 389.8,358.0 389.9,358.0 389.9,358.0 390.0,358.0 390.8,358.0 391.5,358.0 392.2,358.0 393.0,358.0 393.7,358.0 394.5,358.0 395.2,358.0 395.9,358.0 396.7,358.0 397.4,358.0 398.2,358.0 398.9,358.0 399.6,358.0 400.4,358.0 401.1,358.0 401.9,358.0 402.6,358.0 403.3,357.9 404.1,357.9 404.8,357.9 405.6,357.9 406.3,357.9 407.1,357.9 407.8,357.9 408.5,357.9 409.3,357.9 410.0,357.9 410.8,357.9 411.5,357.9 412.2,357.9 413.0,357.9 413.7,357.9 414.5,357.9 415.2,357.9 415.9,357.9 416.7,357.9 417.4,357.9 418.2,357.8 418.9,357.8 419.7,357.8 420.4,357.8 421.1,357.8 421.9,357.8 422.6,357.8 423.4,357.8 424.1,357.8 424.8,357.7 425.6,357.7 426.3,357.7 427.1,357.7 427.8,357.7 428.5,357.7 429.3,357.6 430.0,357.6 430.8,357.6 431.5,357.6 432.2,357.6 433.0,357.5 433.7,357.5 434.5,357.5 435.2,357.5 436.0,357.4 436.7,357.4 437.4,357.4 438.2,357.3 438.9,357.3 439.7,357.3 440.4,357.2 441.1,357.2 441.9,357.1 442.6,357.1 443.4,357.0 444.1,357.0 444.8,356.9 445.6,356.8 446.3,356.8 447.1,356.7 447.8,356.6 448.5,356.6 449.3,356.5 450.0,356.4 450.8,356.3 451.5,356.2 452.3,356.1 453.0,356.0 453.7,355.9 454.5,355.8 455.2,355.7 456.0,355.5 456.7,355.4 457.4,355.3 458.2,355.1 458.9,355.0 459.7,354.8 460.4,354.6 461.1,354.4 461.9,354.2 462.6,354.0 463.4,353.8 464.1,353.6 464.9,353.4 465.6,353.1 466.3,352.8 467.1,352.6 467.8,352.3 468.6,352.0 469.3,351.7 470.0,351.3 470.8,351.0 471.5,350.6 472.3,350.2 473.0,349.8 473.7,349.4 474.5,348.9 475.2,348.4 476.0,347.9 476.7,347.4 477.4,346.9 478.2,346.3 478.9,345.7 479.7,345.1 480.4,344.5 481.2,343.8 481.9,343.1 482.6,342.3 483.4,341.6 484.1,340.8 484.9,339.9 485.6,339.1 486.3,338.2 487.1,337.2 487.8,336.3 488.6,335.2 489.3,334.2 490.0,333.1 490.8,332.0 491.5,330.8 492.3,329.7 493.0,328.4 493.8,327.2 494.5,325.8 495.2,324.5 496.0,323.1 496.7,321.7 497.5,320.3 498.2,318.8 498.9,317.2 499.7,315.7 500.4,314.1 501.2,312.5 501.9,310.9 502.6,309.2 503.4,307.5 504.1,305.8 504.9,304.1 505.6,302.3 506.3,300.6 507.1,298.8 507.8,297.0 508.6,295.2 509.3,293.4 510.1,291.6 510.8,289.8 511.5,288.0 512.3,286.2 513.0,284.5 513.8,282.7 514.5,280.9 515.2,279.2 516.0,277.5 516.7,275.8 517.5,274.1 518.2,272.4 518.9,270.8 519.7,269.2 520.4,267.6 521.2,266.1 521.9,264.6 522.6,263.1 523.4,261.7 524.1,260.3 524.9,258.9 525.6,257.6 526.4,256.3 527.1,255.0 527.8,253.8 528.6,252.6 529.3,251.5 530.1,250.4 530.8,249.3 531.5,248.3 532.3,247.3 533.0,246.3 533.8,245.4 534.5,244.5 535.2,243.7 536.0,242.9 536.7,242.1 537.5,241.3 538.2,240.6 539.0,239.9 539.7,239.2 540.4,238.6 541.2,238.0 541.9,237.4 542.7,236.8 543.4,236.3 544.1,235.8 544.9,235.3 545.6,234.9 546.4,234.4 547.1,234.0 547.8,233.6 548.6,233.2 549.3,232.8 550.1,232.5 550.8,232.2 551.5,231.8 552.3,231.5 553.0,231.3 553.8,231.0 554.5,230.7 555.3,230.5 556.0,230.3 556.7,230.0 557.5,229.8 558.2,229.6 559.0,229.4 559.7,229.3 560.4,229.1 561.2,228.9 561.9,228.8 562.7,228.6 563.4,228.5 564.1,228.3 564.9,228.2 565.6,228.1 566.4,228.0 567.1,227.9 567.9,227.8 568.6,227.7 569.3,227.6 570.1,227.5 570.8,227.4 571.6,227.3 572.3,227.3 573.0,227.2 573.8,227.1 574.5,227.1 575.3,227.0 576.0,227.0 576.7,226.9 577.5,226.9 578.2,226.8 579.0,226.8 579.7,226.7 580.4,226.7 581.2,226.6 581.9,226.6 582.7,226.6 583.4,226.5 584.2,226.5 584.9,226.5 585.6,226.4 586.4,226.4 587.1,226.4 587.9,226.4 588.6,226.4 589.3,226.3 590.1,226.3 590.8,226.3 591.6,226.3 592.3,226.3 593.0,226.2 593.8,226.2 594.5,226.2 595.3,226.2 596.0,226.2 596.7,226.2 597.5,226.2 598.2,226.1 599.0,226.1 599.7,226.1 600.5,226.1 601.2,226.1 601.9,226.1 602.7,226.1 603.4,226.1 604.2,226.1 604.9,226.1 605.6,226.1 606.4,226.1 607.1,226.1 607.9,226.1 608.6,226.1 609.3,226.1 610.1,226.1 610.8,226.1 611.6,226.1 612.3,226.1 613.1,226.1 613.8,226.1 614.5,226.1 615.3,226.2 616.0,226.2 616.8,226.2 617.5,226.2 618.2,226.2 619.0,226.2 619.7,226.2 620.5,226.2 621.2,226.2 621.9,226.2 622.7,226.2 623.4,226.2 624.2,226.3 624.9,226.3 625.6,226.3 626.4,226.3 627.1,226.3 627.9,226.3 628.6,226.3 629.4,226.3 630.1,226.3 630.8,226.3 631.6,226.4 632.3,226.4 633.1,226.4 633.8,226.4 634.5,226.4 635.3,226.4 636.0,226.4 636.8,226.4 637.5,226.4 638.2,226.4 639.0,226.5 639.7,226.5 640.5,226.5 641.2,226.5 642.0,226.5 642.7,226.5 643.4,226.5 644.2,226.5 644.9,226.5 645.7,226.5 646.4,226.6 647.1,226.6 647.9,226.6 648.6,226.6 649.4,226.6 650.1,226.6 650.8,226.6 651.6,226.6 652.3,226.6 653.1,226.7 653.8,226.7 654.5,226.7 655.3,226.7 656.0,226.7 656.8,226.7 657.5,226.7 658.3,226.7 659.0,226.7 659.7,226.8 660.5,226.8 661.2,226.8 662.0,226.8 662.7,226.8 663.4,226.8 664.2,226.8 664.9,226.8 665.7,226.8 666.4,226.8 667.1,226.9 667.9,226.9 668.6,226.9 669.4,226.9 670.1,226.9 670.8,226.9 671.6,226.9 672.3,226.9 673.1,226.9 673.8,227.0 674.6,227.0 675.3,227.0 676.0,227.0 676.8,227.0 677.5,227.0 678.3,227.0 679.0,227.0" fill="none" stroke="#000" stroke-width="2" stroke-linejoin="round"/>
<polyline points="382.6,358.0 679.0,358.0" fill="none" stroke="#ff0000" stroke-width="2" stroke-linejoin="round"/>
<path d="M382.60 358.00H679.00" stroke="#000" stroke-opacity="0.4" stroke-width="2" stroke-dasharray="1.1 3.3" fill="none"/>
<path d="M382.60 358.00H679.00" stroke="#000" stroke-width="1.8" stroke-dasharray="1.3 3.5 1.3 22.9" stroke-dashoffset="-5.40" fill="none"/>
</g>
<text x="382.60" y="221.10" class="tk">x 10<tspan dy="-4.6" font-size="5.8">4</tspan></text>
<text x="530.80" y="381.80" text-anchor="middle" class="xl">Time(days)</text>
<text transform="translate(358.60 290.35) rotate(-90)" x="-20.10" class="yl" font-size="12" textLength="40.20" lengthAdjust="spacing"><tspan font-style="italic">R</tspan><tspan font-size="15" dy="1">(</tspan><tspan dy="-1">′000</tspan><tspan font-size="15" dy="1">)</tspan></text>
<rect x="384.80" y="224.90" width="88.60" height="36.50" fill="#fff" stroke="#000" stroke-width="1.2"/>
<path d="M387.10 230.00H398.90" stroke="#000" stroke-width="1.7" fill="none"/>
<text x="400.50" y="232.60" class="lg ph">ϕ</text>
<text x="404.70" y="233.80" class="lg sb">3</text>
<text x="410.50" y="233.60" class="lg eq">=</text>
<text x="418.80" y="232.60" class="lg ph">ϕ</text>
<text x="423.00" y="233.80" class="lg sb">4</text>
<text x="429.10" y="233.60" class="lg eq">=</text>
<text x="437.50" y="232.60" class="lg ph">ϕ</text>
<text x="441.70" y="233.80" class="lg sb">5</text>
<text x="447.70" y="233.60" class="lg eq">=</text>
<text x="456.10" y="232.60" class="lg nm">0</text>
<path d="M387.10 239.10H398.90" stroke="#f00" stroke-width="1.7" fill="none"/>
<text x="400.50" y="241.70" class="lg ph">ϕ</text>
<text x="404.70" y="242.90" class="lg sb">3</text>
<text x="410.50" y="242.70" class="lg eq">=</text>
<text x="418.80" y="241.70" class="lg ph">ϕ</text>
<text x="423.00" y="242.90" class="lg sb">4</text>
<text x="429.10" y="242.70" class="lg eq">=</text>
<text x="437.50" y="241.70" class="lg ph">ϕ</text>
<text x="441.70" y="242.90" class="lg sb">5</text>
<text x="447.70" y="242.70" class="lg eq">=</text>
<text x="456.10" y="241.70" class="lg nm">0.20</text>
<path d="M387.10 248.50H398.90" stroke="#000" stroke-dasharray="1.4 1.4 5.2 1.4 2.4 10" stroke-width="1.7" fill="none"/>
<text x="400.50" y="251.10" class="lg ph">ϕ</text>
<text x="404.70" y="252.30" class="lg sb">3</text>
<text x="410.50" y="252.10" class="lg eq">=</text>
<text x="418.80" y="251.10" class="lg ph">ϕ</text>
<text x="423.00" y="252.30" class="lg sb">4</text>
<text x="429.10" y="252.10" class="lg eq">=</text>
<text x="437.50" y="251.10" class="lg ph">ϕ</text>
<text x="441.70" y="252.30" class="lg sb">5</text>
<text x="447.70" y="252.10" class="lg eq">=</text>
<text x="456.10" y="251.10" class="lg nm">0.40</text>
<path d="M387.10 257.30H398.90" stroke="#f00" stroke-dasharray="3.2 1.1" stroke-width="1.7" fill="none"/>
<text x="400.50" y="259.90" class="lg ph">ϕ</text>
<text x="404.70" y="261.10" class="lg sb">3</text>
<text x="410.50" y="260.90" class="lg eq">=</text>
<text x="418.80" y="259.90" class="lg ph">ϕ</text>
<text x="423.00" y="261.10" class="lg sb">4</text>
<text x="429.10" y="260.90" class="lg eq">=</text>
<text x="437.50" y="259.90" class="lg ph">ϕ</text>
<text x="441.70" y="261.10" class="lg sb">5</text>
<text x="447.70" y="260.90" class="lg eq">=</text>
<text x="456.10" y="259.90" class="lg nm">0.60</text>
<text x="67.30" y="189.70" class="cb" textLength="22.6" lengthAdjust="spacingAndGlyphs"><tspan font-size="21.5" dy="0.6">(</tspan><tspan font-size="19.5" dy="-0.6">a</tspan><tspan font-size="21.5" dy="0.6">)</tspan></text>
<text x="96.20" y="189.70" class="cp" textLength="172.40" lengthAdjust="spacing">Self-quarantined individuals</text>
<text x="396.60" y="189.70" class="cb" textLength="24.2" lengthAdjust="spacingAndGlyphs"><tspan font-size="21.5" dy="0.6">(</tspan><tspan font-size="19.5" dy="-0.6">b</tspan><tspan font-size="21.5" dy="0.6">)</tspan></text>
<text x="428.10" y="189.70" class="cp" textLength="216.40" lengthAdjust="spacing">Symptomatic infectious individuals</text>
<text x="87.60" y="402.10" class="cb" textLength="22.2" lengthAdjust="spacingAndGlyphs"><tspan font-size="19.8" dy="0">(</tspan><tspan font-size="20.5" dy="0">c</tspan><tspan font-size="19.8" dy="0">)</tspan></text>
<text x="114.60" y="402.10" class="cp2" textLength="134.20" lengthAdjust="spacing">COVID-19 prevalence</text>
<text x="439.20" y="402.10" class="cb" textLength="23.6" lengthAdjust="spacingAndGlyphs"><tspan font-size="21.5" dy="0.6">(</tspan><tspan font-size="19.5" dy="-0.6">d</tspan><tspan font-size="21.5" dy="0.6">)</tspan></text>
<text x="469.00" y="402.10" class="cp" textLength="133.40" lengthAdjust="spacing">Recovered individuals</text>
</svg>
</body></html>
